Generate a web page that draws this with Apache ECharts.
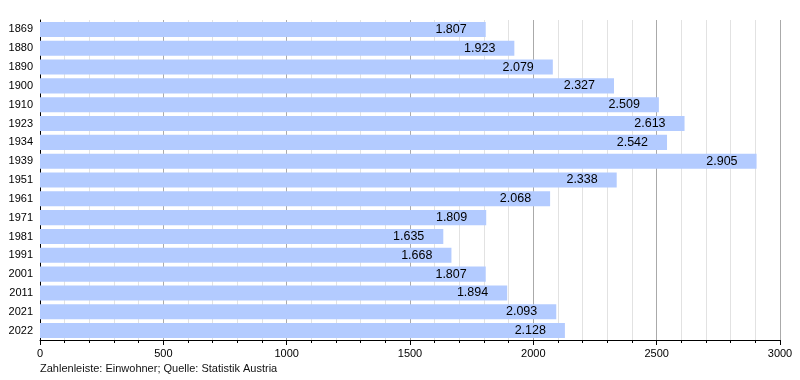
<!DOCTYPE html>
<html><head><meta charset="utf-8">
<script src="https://cdn.jsdelivr.net/npm/echarts@6/dist/echarts.min.js"></script>
<style>html,body{margin:0;padding:0;background:#fff}#c{width:800px;height:380px}</style>
</head><body><div id="c"></div>
<script>
const years = ['1869','1880','1890','1900','1910','1923','1934','1939','1951','1961','1971','1981','1991','2001','2011','2021','2022'];
const population = [1807,1923,2079,2327,2509,2613,2542,2905,2338,2068,1809,1635,1668,1807,1894,2093,2128];
const footnote = 'Zahlenleiste: Einwohner; Quelle: Statistik Austria';

const chart = echarts.init(document.getElementById('c'), null, {renderer:'canvas'});
const font = '"Liberation Sans", Arial, sans-serif';
chart.setOption({
  animation:false,
  grid:{left:40, right:20, top:20, bottom:40, containLabel:false},
  graphic:[{type:'text', left:40, top:363, style:{text:footnote, font:'11px '+font, fill:'#111'}}],
  xAxis:{type:'value', min:0, max:3000, interval:500,
    axisLine:{show:true, lineStyle:{color:'#000', width:1}},
    axisTick:{show:true, length:5, lineStyle:{color:'#000'}},
    minorTick:{show:true, splitNumber:5, length:3, lineStyle:{color:'#000'}},
    splitLine:{show:true, lineStyle:{color:'#aaa', width:1}},
    minorSplitLine:{show:true, lineStyle:{color:'#e2e2e2', width:1}},
    axisLabel:{color:'#000', fontSize:11, fontFamily:font, margin:8, formatter:v=>String(v)}
  },
  yAxis:{type:'category', data:years, inverse:true,
    axisLine:{show:true, lineStyle:{color:'#000'}},
    axisTick:{show:false},
    axisLabel:{color:'#000', fontSize:11, fontFamily:font, margin:7},
    splitLine:{show:false}
  },
  series:[{type:'bar', data:population, barWidth:'80%',
    itemStyle:{color:'#b3cbff'},
    label:{show:true, position:'insideRight', distance:19, color:'#000', fontSize:12.5, fontFamily:font,
      formatter:p=>(p.value/1000).toFixed(3)}
  }]
});
</script></body></html>
